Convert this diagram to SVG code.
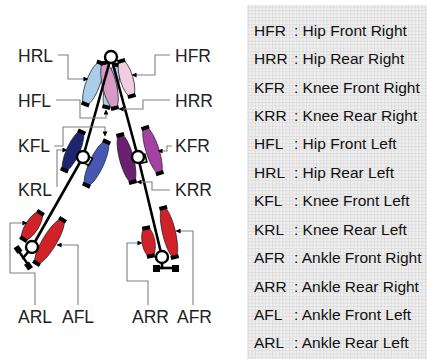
<svg xmlns="http://www.w3.org/2000/svg" width="427" height="360" viewBox="0 0 427 360">
  <defs>
    <style>
      .lbl { font-family: "Liberation Sans", Arial, sans-serif; font-size: 17.5px; fill: #222; }
      .key { font-family: "Liberation Sans", Arial, sans-serif; font-size: 15.5px; fill: #111; }
      .lead { fill: none; stroke: #808080; stroke-width: 1.1; marker-end: url(#arr); }
      .bone { stroke: #000; stroke-width: 2.6; fill: none; stroke-linecap: round; }
      .joint { fill: #fff; stroke: #000; stroke-width: 2.4; }
      .musc { stroke: #222; stroke-width: 0.7; }
      .cap { fill: #000; }
    </style>
    <marker id="arr" viewBox="0 0 6 6" refX="5.5" refY="3" markerWidth="5" markerHeight="5" markerUnits="userSpaceOnUse" orient="auto">
      <path d="M0,0 L6,3 L0,6 Z" fill="#000"/>
    </marker>
    <pattern id="grid" width="3.4" height="3.4" patternUnits="userSpaceOnUse">
      <rect width="3.4" height="3.4" fill="#f0f0f0"/>
      <path d="M0,0.5 H3.4 M0.5,0 V3.4" stroke="#dadada" stroke-width="0.8"/>
    </pattern>
  </defs>

  <!-- legend panel -->
  <g id="legend">
    <rect x="247" y="5" width="180" height="354" fill="url(#grid)"/>
    <g class="key">
      <text x="254" y="36">HFR</text><text x="294" y="36">: Hip Front Right</text>
      <text x="254" y="64">HRR</text><text x="294" y="64">: Hip Rear Right</text>
      <text x="254" y="93">KFR</text><text x="294" y="93">: Knee Front Right</text>
      <text x="254" y="121">KRR</text><text x="294" y="121">: Knee Rear Right</text>
      <text x="254" y="149">HFL</text><text x="294" y="149">: Hip Front Left</text>
      <text x="254" y="178">HRL</text><text x="294" y="178">: Hip Rear Left</text>
      <text x="254" y="206">KFL</text><text x="294" y="206">: Knee Front Left</text>
      <text x="254" y="235">KRL</text><text x="294" y="235">: Knee Rear Left</text>
      <text x="254" y="263">AFR</text><text x="294" y="263">: Ankle Front Right</text>
      <text x="254" y="292">ARR</text><text x="294" y="292">: Ankle Rear Right</text>
      <text x="254" y="320">AFL</text><text x="294" y="320">: Ankle Front Left</text>
      <text x="254" y="348">ARL</text><text x="294" y="348">: Ankle Rear Left</text>
    </g>
  </g>

  <!-- muscles (spindles with black tendon caps) -->
  <g id="HFL" transform="translate(111.5,86) rotate(14)">
    <ellipse class="musc" rx="6.5" ry="22.7" fill="#a9cdea"/>
    <rect class="cap" x="-4" y="-23.7" width="8" height="4"/><rect class="cap" x="-4" y="19.7" width="8" height="4"/>
  </g>
  <g id="HRL" transform="translate(93,83.5) rotate(20.4)">
    <ellipse class="musc" rx="7" ry="23" fill="#a9cdea"/>
    <rect class="cap" x="-4" y="-24" width="8" height="4"/><rect class="cap" x="-4" y="20" width="8" height="4"/>
  </g>
  <g id="HRR" transform="translate(109.5,85.5) rotate(-13.2)">
    <ellipse class="musc" rx="7" ry="24.2" fill="#d99ac6"/>
    <rect class="cap" x="-4" y="-25.2" width="8" height="4"/><rect class="cap" x="-4" y="21.2" width="8" height="4"/>
  </g>
  <g id="HFR" transform="translate(126.5,78.5) rotate(-16.6)">
    <ellipse class="musc" rx="6.5" ry="19.3" fill="#f1cde1"/>
    <rect class="cap" x="-4" y="-20.3" width="8" height="4"/><rect class="cap" x="-4" y="16.3" width="8" height="4"/>
  </g>
  <g id="KFL" transform="translate(96.5,163.5) rotate(25)">
    <ellipse class="musc" rx="7" ry="24.9" fill="#4658b2"/>
    <rect class="cap" x="-4" y="-25.9" width="8" height="4"/><rect class="cap" x="-4" y="21.9" width="8" height="4"/>
  </g>
  <g id="KRL" transform="translate(73,151) rotate(24.2)">
    <ellipse class="musc" rx="6.5" ry="22" fill="#1e246e"/>
    <rect class="cap" x="-4" y="-23" width="8" height="4"/><rect class="cap" x="-4" y="19" width="8" height="4"/>
  </g>
  <g id="KRR" transform="translate(126.5,158.5) rotate(-14.9)">
    <ellipse class="musc" rx="7" ry="25.4" fill="#6b1f6f"/>
    <rect class="cap" x="-4" y="-26.4" width="8" height="4"/><rect class="cap" x="-4" y="22.4" width="8" height="4"/>
  </g>
  <g id="KFR" transform="translate(152.5,150.5) rotate(-17.7)">
    <ellipse class="musc" rx="6.5" ry="24.7" fill="#a442a4"/>
    <rect class="cap" x="-4" y="-25.7" width="8" height="4"/><rect class="cap" x="-4" y="21.7" width="8" height="4"/>
  </g>
  <g id="ARL" transform="translate(32,226) rotate(32.7)">
    <ellipse class="musc" rx="6.5" ry="16.7" fill="#d12229"/>
    <rect class="cap" x="-4" y="-17.7" width="8" height="4"/><rect class="cap" x="-4" y="13.7" width="8" height="4"/>
  </g>
  <g id="AFL" transform="translate(49.5,241.5) rotate(31)">
    <ellipse class="musc" rx="7" ry="26.3" fill="#d12229"/>
    <rect class="cap" x="-4" y="-27.3" width="8" height="4"/><rect class="cap" x="-4" y="23.3" width="8" height="4"/>
  </g>
  <g id="ARR" transform="translate(148.5,242) rotate(-9.5)">
    <ellipse class="musc" rx="6.5" ry="15.2" fill="#d12229"/>
    <rect class="cap" x="-4" y="-16.2" width="8" height="4"/><rect class="cap" x="-4" y="12.2" width="8" height="4"/>
  </g>
  <g id="AFR" transform="translate(169,232.5) rotate(-13.2)">
    <ellipse class="musc" rx="6.5" ry="26.2" fill="#d12229"/>
    <rect class="cap" x="-4" y="-27.2" width="8" height="4"/><rect class="cap" x="-4" y="23.2" width="8" height="4"/>
  </g>

  <!-- leg skeleton -->
  <g id="skeleton">
    <line class="bone" x1="111" y1="57" x2="83" y2="157"/>
    <line class="bone" x1="111" y1="57" x2="138" y2="157"/>
    <line class="bone" x1="83" y1="157" x2="32" y2="247"/>
    <line class="bone" x1="138" y1="157" x2="162" y2="257"/>
    <!-- knee hinge plates -->
    <rect x="84" y="156" width="7" height="8" fill="#fff" stroke="#000" stroke-width="1.6" transform="rotate(30 87 160)"/>
    <rect x="139" y="155" width="7" height="8" fill="#fff" stroke="#000" stroke-width="1.6" transform="rotate(-14 142 159)"/>
    <!-- left foot -->
    <line class="bone" x1="29" y1="251" x2="23" y2="258"/>
    <line x1="18" y1="250" x2="29" y2="266" stroke="#000" stroke-width="2.4"/>
    <rect class="cap" x="14.5" y="246.5" width="7" height="6" transform="rotate(55 18 249.5)"/>
    <rect class="cap" x="25" y="263" width="7" height="6" transform="rotate(55 28.5 266)"/>
    <!-- right foot -->
    <line class="bone" x1="162" y1="262" x2="162" y2="268"/>
    <line x1="155" y1="268" x2="178" y2="268" stroke="#000" stroke-width="2.6"/>
    <rect class="cap" x="153" y="265" width="7" height="7"/>
    <rect class="cap" x="172" y="265" width="7" height="7"/>
    <circle class="joint" cx="111" cy="57" r="6"/>
    <circle class="joint" cx="83" cy="157" r="6"/>
    <circle class="joint" cx="138" cy="157" r="6"/>
    <circle class="joint" cx="32" cy="247" r="6"/>
    <circle class="joint" cx="162" cy="257" r="6"/>
  </g>

  <!-- label leaders -->
  <g id="connectors">
    <polyline class="lead" points="58,55 68,55 68,79 88,79"/>
    <polyline class="lead" points="170,55 155,55 155,75 132,75"/>
    <polyline class="lead" points="56,100 80,100 80,118 106,118 106,110"/>
    <polyline class="lead" points="170,100 143,100 143,109 119,109"/>
    <polyline class="lead" points="54,146 63,146 63,127 105,127 105,136"/>
    <polyline class="lead" points="172,146 167,146 167,151 158,151"/>
    <polyline class="lead" points="57,187 57,150 67,150"/>
    <polyline class="lead" points="170,190 152,190 152,182 137,182"/>
    <polyline class="lead" points="35,305 35,273 10,273 10,223 27,223"/>
    <polyline class="lead" points="78,305 78,245 57,245"/>
    <polyline class="lead" points="148,305 148,281 127,281 127,243 142,243"/>
    <polyline class="lead" points="193,305 193,231 176,231"/>
  </g>

  <!-- muscle labels -->
  <g id="labels" class="lbl">
    <text x="18" y="62">HRL</text>
    <text x="175" y="62">HFR</text>
    <text x="18" y="107">HFL</text>
    <text x="175" y="107">HRR</text>
    <text x="18" y="152">KFL</text>
    <text x="175" y="152">KFR</text>
    <text x="18" y="196">KRL</text>
    <text x="175" y="196">KRR</text>
    <text x="18" y="323">ARL</text>
    <text x="62" y="323">AFL</text>
    <text x="132" y="323">ARR</text>
    <text x="177" y="323">AFR</text>
  </g>
</svg>
